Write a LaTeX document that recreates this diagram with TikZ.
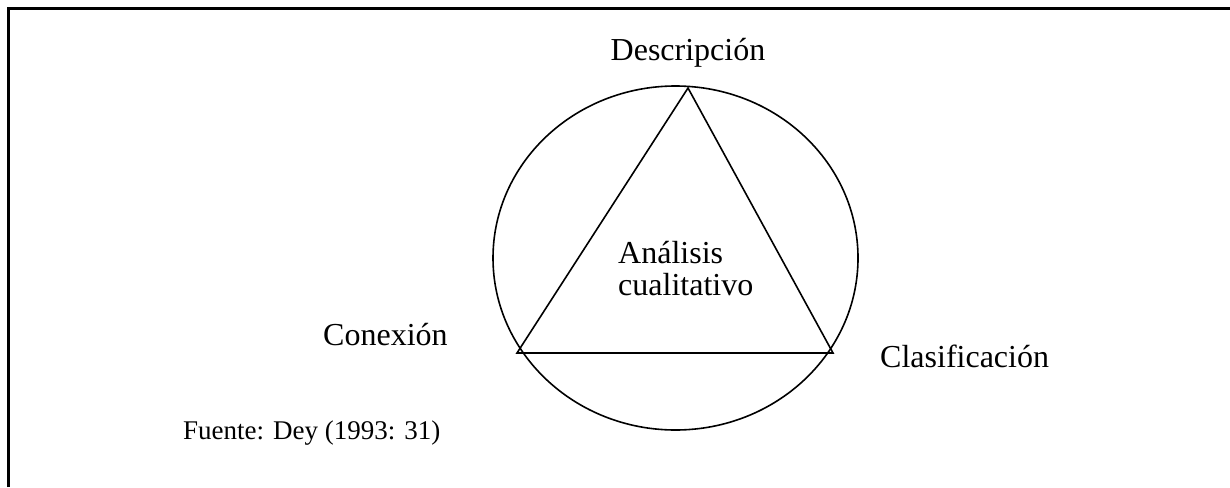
\documentclass[tikz,border=0pt]{standalone}
\usepackage{fontspec}
\setmainfont{Liberation Serif}

\tikzset{
  label/.style={inner sep=0pt, font=\fontsize{32}{32}\selectfont},
  source/.style={inner sep=0pt, font=\fontsize{27}{27}\selectfont},
  figline/.style={line width=1.6pt}
}

\begin{document}
\begin{tikzpicture}[x=1pt, y=-1pt]

\useasboundingbox (0,0) rectangle (1230,487);

% frame (only top and left edges are visible)
\draw[line width=2.8pt] (8.7,487) -- (8.7,8.7) -- (1230,8.7);

% centre of the circle and corners of the triangle
\coordinate (mid) at (675.5,258);
\coordinate (top) at (688,88);
\coordinate (left) at (517,353);
\coordinate (right) at (833,353);

% circle round the triangle
\draw[figline] (mid) ellipse [x radius=182.5pt, y radius=172pt];

% triangle
\draw[figline, line join=miter] (top) -- (left) -- (right) -- cycle;

% corner labels
\node[label, anchor=base] (desc) at (688,60) {Descripción};
\node[label, anchor=base west] (conn) at (323,345) {Conexión};
\node[label, anchor=base west] (clas) at (880,367) {Clasificación};

% text inside the triangle (base = last line)
\node[label, anchor=base west, align=left] (anal) at (618,295) {Análisis\\cualitativo};

% source line
\node[source, anchor=base west] (src) at (183,439) {Fuente: Dey (1993: 31)};

\end{tikzpicture}
\end{document}
